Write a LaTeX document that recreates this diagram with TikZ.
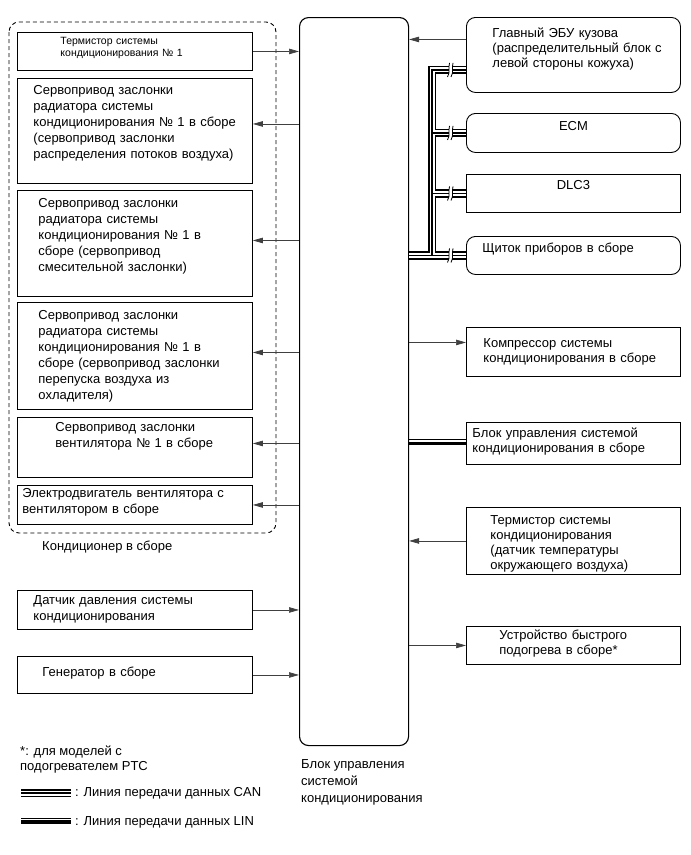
\documentclass[tikz,border=0pt]{standalone}
\usepackage{fontspec}
\setmainfont{Liberation Sans}
\usetikzlibrary{arrows.meta,positioning}
\newcommand{\canbreak}[1]{%
  \fill[white] ([xshift=-17pt,yshift=-6pt]#1) rectangle ([xshift=-14.5pt,yshift=6pt]#1);
  \draw[line width=0.8pt] ([xshift=-18.5pt,yshift=-7pt]#1) .. controls ([xshift=-15.5pt,yshift=-2pt]#1) and ([xshift=-18pt,yshift=2pt]#1) .. ([xshift=-16.5pt,yshift=7pt]#1);
  \draw[line width=0.8pt] ([xshift=-15pt,yshift=-7pt]#1) .. controls ([xshift=-12pt,yshift=-2pt]#1) and ([xshift=-14.5pt,yshift=2pt]#1) .. ([xshift=-13pt,yshift=7pt]#1);
}

\begin{document}
\begin{tikzpicture}[
  x=1pt, y=-1pt,
  font=\fontsize{13}{16}\selectfont,
  box/.style={draw, line width=0.9pt, anchor=north west, inner xsep=4pt,
              inner ysep=4pt, align=left},
  lbox/.style={box, text width=227pt},
  rbox/.style={box, text width=206pt, font=\fontsize{13}{15}\selectfont},
  rnd/.style={rounded corners=9pt},
  ind/.style={execute at begin node={\leftskip=#1}},
  smalltxt/.style={font=\fontsize{10.5}{12.5}\selectfont},
  ctrlbox/.style={draw, line width=1.1pt, rounded corners=9pt, anchor=north west,
                  minimum width=109pt, minimum height=728pt, inner sep=0pt},
  group/.style={draw, dash pattern=on 4pt off 3pt, rounded corners=10pt, line width=0.9pt},
  lbl/.style={inner sep=0pt, align=left},
  arr/.style={-{Triangle[length=10pt,width=5.5pt]}, line width=0.7pt, draw=black!75},
  can/.style={line width=8.5pt, draw=black,
              postaction={draw=white, line width=5pt},
              postaction={draw=black, line width=1.8pt}},
  lin/.style={line width=3.5pt, draw=black,
              postaction={draw=black, line width=0.7pt, transform canvas={yshift=4pt}}}
]
\useasboundingbox (0,0) rectangle (691,855);

\node[ctrlbox] (ctrl) at (299,17) {};
\node[lbl, anchor=north west, font=\fontsize{13}{17}\selectfont] (ctrllbl) at (301,759)
  {Блок управления\\системой\\кондиционирования};

\draw[group] (9,22) rectangle (276,533);
\node[lbox, smalltxt, ind=39pt, text height=8pt, text depth=22pt] (therm1) at (17,32)
  {Термистор системы\\кондиционирования № 1};
\node[lbox, ind=12pt, text height=12pt, text depth=85pt] (damp1) at (17,78)
  {Сервопривод заслонки\\радиатора системы\\кондиционирования № 1 в сборе\\(сервопривод заслонки\\распределения потоков воздуха)};
\node[lbox, ind=17pt, text height=13pt, text depth=85pt] (damp2) at (17,190)
  {Сервопривод заслонки\\радиатора системы\\кондиционирования № 1 в\\сборе (сервопривод\\смесительной заслонки)};
\node[lbox, ind=17pt, text height=13pt, text depth=86pt] (damp3) at (17,302)
  {Сервопривод заслонки\\радиатора системы\\кондиционирования № 1 в\\сборе (сервопривод заслонки\\перепуска воздуха из\\охладителя)};
\node[lbox, ind=34pt, text height=10pt, text depth=42pt] (damp4) at (17,417)
  {Сервопривод заслонки\\вентилятора № 1 в сборе};
\node[lbox, ind=1pt, text height=8pt, text depth=23pt] (fan) at (17,485)
  {Электродвигатель вентилятора с\\вентилятором в сборе};
\node[lbl, anchor=west] (aclbl) at (42,547) {Кондиционер в сборе};
\node[lbox, ind=12pt, text height=10pt, text depth=21pt] (psens) at (17,590)
  {Датчик давления системы\\кондиционирования};
\node[lbox, ind=21pt, text height=16pt, text depth=13pt] (gen) at (17,656)
  {Генератор в сборе};

\node[rbox, rnd, ind=22pt, text height=16pt, text depth=51pt] (ebu) at (466,17)
  {Главный ЭБУ кузова\\(распределительный блок с\\левой стороны кожуха)};
\node[rbox, rnd, align=center, text height=13pt, text depth=18pt] (ecm) at (466,113) {ECM};
\node[rbox, align=center, text height=11pt, text depth=19pt] (dlc) at (466,174) {DLC3};
\node[rbox, rnd, ind=12pt, text height=12pt, text depth=18pt] (shch) at (466,236)
  {Щиток приборов в сборе};
\node[rbox, ind=13pt, text height=16pt, text depth=25pt] (comp) at (466,327)
  {Компрессор системы\\кондиционирования в сборе};
\node[rbox, ind=2pt, text height=11pt, text depth=23pt] (acecu) at (466,422)
  {Блок управления системой\\кондиционирования в сборе};
\node[rbox, ind=20pt, text height=13pt, text depth=46pt] (ambt) at (466,507)
  {Термистор системы\\кондиционирования\\(датчик температуры\\окружающего воздуха)};
\node[rbox, ind=29pt, text height=9pt, text depth=21pt] (heater) at (466,626)
  {Устройство быстрого\\подогрева в сборе*};

\node[lbl, anchor=north west, font=\fontsize{13}{15}\selectfont] (note) at (20,746)
  {*: для моделей с\\подогревателем PTC};
\node[lbl, anchor=west] (canlbl) at (75,793) {: Линия передачи данных CAN};
\node[lbl, anchor=west] (linlbl) at (75,822) {: Линия передачи данных LIN};

\coordinate (d1) at ([yshift=7pt]damp1.east);
\coordinate (d2) at ([yshift=3pt]damp2.east);
\coordinate (d3) at ([yshift=3.5pt]damp3.east);
\coordinate (d4) at ([yshift=4pt]damp4.east);
\coordinate (e1) at ([yshift=15.5pt]ebu.west);
\coordinate (c1) at ([yshift=9.5pt]comp.west);
\coordinate (ebucan) at ([yshift=-15pt]ebu.west);
\coordinate (canx) at (432,0);

\draw[arr] (therm1.east) -- (therm1.east -| ctrl.west);
\draw[arr] (ctrl.west |- d1) -- (d1);
\draw[arr] (ctrl.west |- d2) -- (d2);
\draw[arr] (ctrl.west |- d3) -- (d3);
\draw[arr] (ctrl.west |- d4) -- (d4);
\draw[arr] (ctrl.west |- fan.east) -- (fan.east);
\draw[arr] (psens.east) -- (psens.east -| ctrl.west);
\draw[arr] (gen.east) -- (gen.east -| ctrl.west);

\draw[arr] (e1) -- (ctrl.east |- e1);
\draw[arr] (ctrl.east |- c1) -- (c1);
\draw[arr] (ambt.west) -- (ctrl.east |- ambt.west);
\draw[arr] (ctrl.east |- heater.west) -- (heater.west);

\draw[can] (ctrl.east |- shch.west) -- (shch.west)
  (canx |- shch.west) -- (canx |- ebucan) -- (ebucan)
  (canx |- ecm.west) -- (ecm.west)
  (canx |- dlc.west) -- (dlc.west);
\canbreak{ebucan}
\canbreak{ecm.west}
\canbreak{dlc.west}
\canbreak{shch.west}
\draw[lin] (ctrl.east |- acecu.west) -- (acecu.west);

\draw[can] ([xshift=-54pt]canlbl.west) -- ([xshift=-4pt]canlbl.west);
\draw[lin] ([xshift=-54pt]linlbl.west) -- ([xshift=-4pt]linlbl.west);
\end{tikzpicture}
\end{document}
